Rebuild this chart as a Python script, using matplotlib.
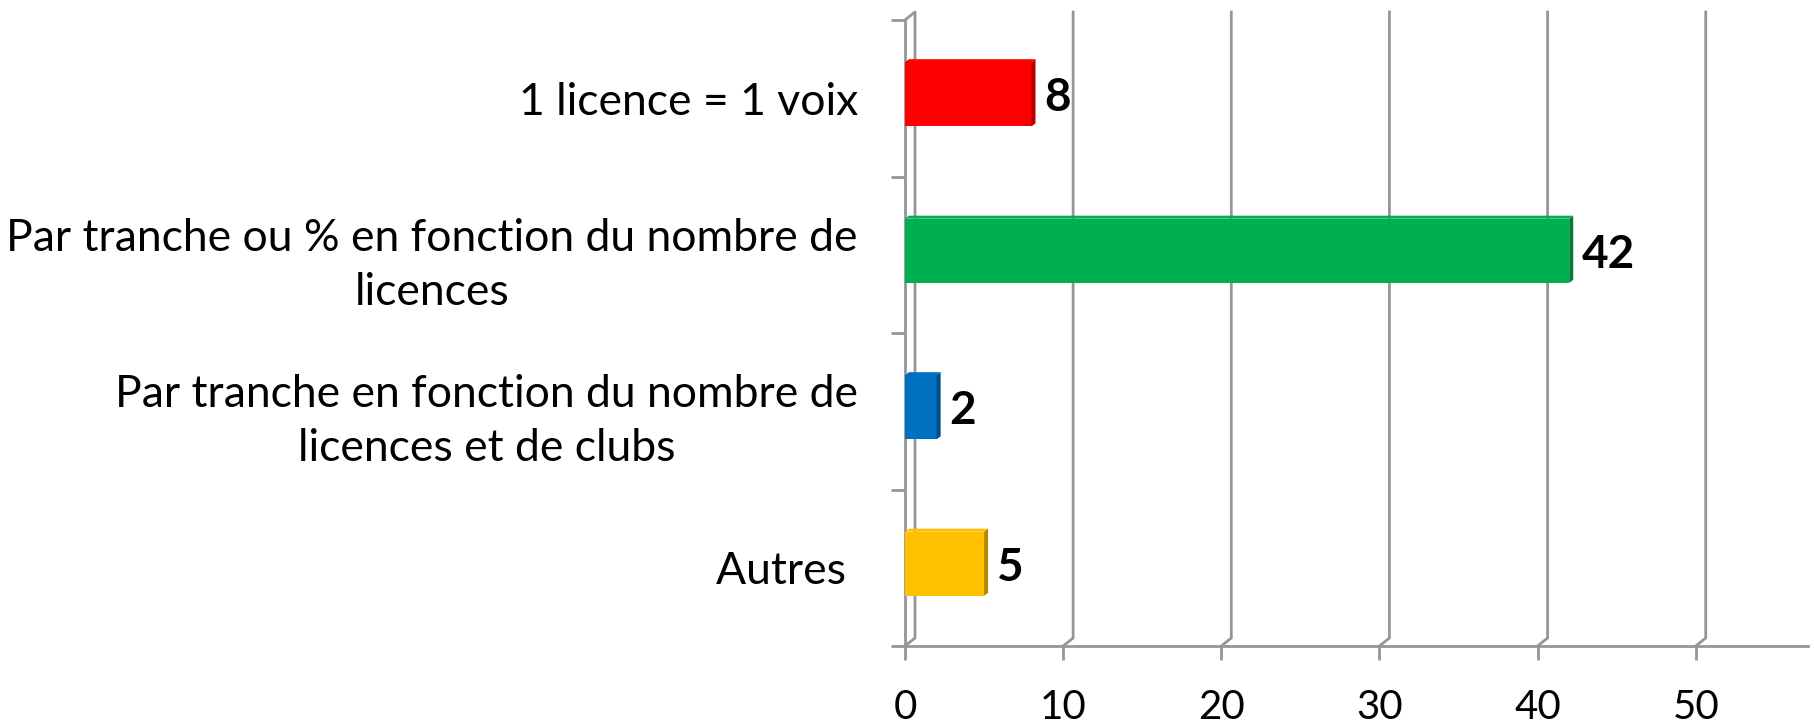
import matplotlib.pyplot as plt
from matplotlib.patches import Polygon
from matplotlib.colors import to_rgb

categories = ['1 licence = 1 voix',
              'Par tranche ou % en fonction du nombre de\nlicences',
              'Par tranche en fonction du nombre de\nlicences et de clubs',
              'Autres ']
values = [8, 42, 2, 5]
colors = ['#FF0000', '#00B050', '#0070C0', '#FFC000']
xticks = [0, 10, 20, 30, 40, 50]

plt.rcParams['font.family'] = ['Lato', 'DejaVu Sans']

W, H = 1814, 727
fig = plt.figure(figsize=(W / 100, H / 100), dpi=100)
left, right, bottom, top = 905, 1808, 646, 20
ax = fig.add_axes([left / W, 1 - bottom / H, (right - left) / W, (bottom - top) / H])

xmax = 57.1
n = len(categories)
ax.set_xlim(0, xmax)
ax.set_ylim(0, n)

px_x = xmax / (right - left)      # data units per pixel
px_y = n / (bottom - top)
dx, dy = 10 * px_x, 8 * px_y      # wall depth
bdx, bdy = 4 * px_x, 3 * px_y     # bar depth
grid_c = '#969696'

# back gridlines with 3D kink at bottom
for t in xticks[1:]:
    ax.plot([t, t + dx, t + dx], [0, dy, n + dy], color=grid_c, lw=2,
            clip_on=False, zorder=1)

# left wall
ax.plot([0, dx, dx, 0], [0, dy, n + dy, n], color=grid_c, lw=2,
        clip_on=False, zorder=1)

# bars
ypos = [n - 0.5 - i for i in range(n)]
bh = 0.41
shift = 4 * px_y
for y, v, c in zip(ypos, values, colors):
    yc = y + shift
    ax.barh(yc, v, height=bh, color=c, zorder=3)
    r, g, b = to_rgb(c)
    dark = (r * 0.7, g * 0.7, b * 0.7)
    y0, y1 = yc - bh / 2, yc + bh / 2
    ax.add_patch(Polygon([(v, y0), (v + bdx, y0 + bdy), (v + bdx, y1 + bdy), (v, y1)],
                         closed=True, color=dark, zorder=3, lw=0))
    ax.add_patch(Polygon([(0, y1), (bdx, y1 + bdy), (v + bdx, y1 + bdy), (v, y1)],
                         closed=True, color=c, zorder=3, lw=0))
    ax.annotate(str(v), (v, y), xytext=(9, 0), textcoords='offset points',
                va='center', ha='left', fontsize=33, fontweight='bold')

# spines and ticks
for s in ['top', 'right']:
    ax.spines[s].set_visible(False)
for s in ['left', 'bottom']:
    ax.spines[s].set_color(grid_c)
    ax.spines[s].set_linewidth(2)

ax.set_xticks(xticks)
ax.set_xticklabels([str(t) for t in xticks], fontsize=29)
ax.tick_params(axis='x', length=10, width=2, color=grid_c, pad=21)

ax.set_yticks(range(n + 1))
ax.set_yticklabels([])
ax.set_yticks(ypos, minor=True)
ax.set_yticklabels(categories, minor=True, fontsize=32, multialignment='center',
                   linespacing=1.4)
ax.tick_params(axis='y', which='major', length=10, width=2, color=grid_c)
ax.tick_params(axis='y', which='minor', length=0, pad=34)

fig.savefig('out.png', dpi=100, facecolor='white')
